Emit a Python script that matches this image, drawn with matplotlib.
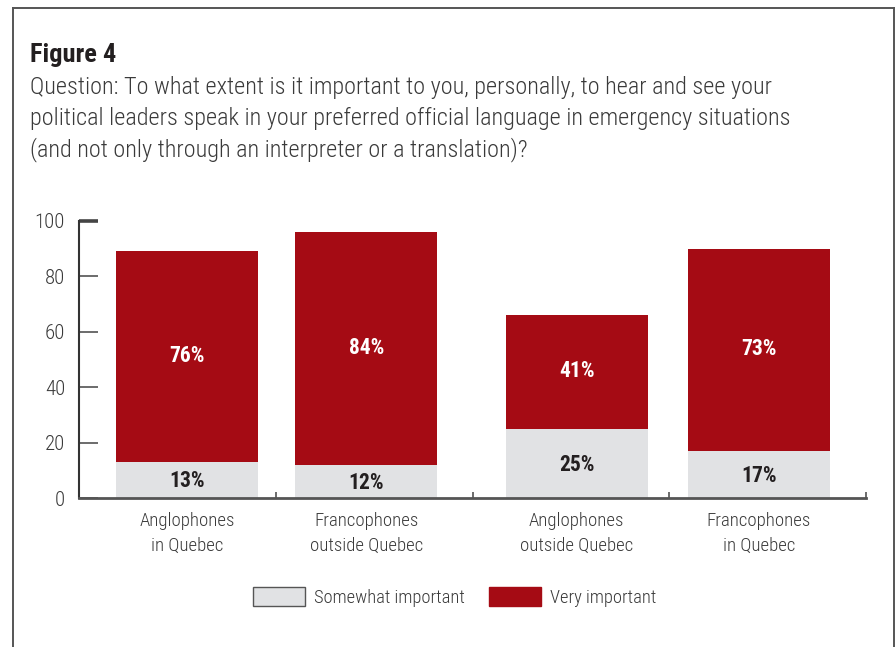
import matplotlib

matplotlib.use("Agg", force=True)
import matplotlib.pyplot as plt
from matplotlib import font_manager
from matplotlib.lines import Line2D
from matplotlib.patches import Patch

# --- data -------------------------------------------------------------
groups = [
    "Anglophones\nin Quebec",
    "Francophones\noutside Quebec",
    "Anglophones\noutside Quebec",
    "Francophones\nin Quebec",
]
somewhat = [13, 12, 25, 17]
very = [76, 84, 41, 73]
y_ticks = [0, 20, 40, 60, 80, 100]
series_names = ["Somewhat important", "Very important"]
fig_title = "Figure 4"
question_lines = [
    "Question: To what extent is it important to you, personally, to hear and see your",
    "political leaders speak in your preferred official language in emergency situations",
    "(and not only through an interpreter or a translation)?",
]

# --- style ------------------------------------------------------------
RED = "#a50b14"
GRAY = "#e1e2e4"
TEXT = "#3a3a3a"
DARK = "#231f20"
W, H = 896, 647

installed = {f.name for f in font_manager.fontManager.ttflist}
wanted = ["Roboto Condensed", "Archivo Narrow", "Barlow Semi Condensed", "PT Sans Narrow"]
family = [n for n in wanted if n in installed][:1] + ["DejaVu Sans"]
plt.rcParams["font.family"] = family
BODY = "light" if family[0] == "Roboto Condensed" else "normal"


def px(x, y):
    return x / W, 1 - y / H


fig = plt.figure(figsize=(W / 100, H / 100), dpi=100)

# frame around the figure (open at the bottom)
xl, yt = px(12.5, 7.5)
xr, _ = px(894, 0)
for xs, ys in [([xl, xl], [-0.01, yt]), ([xl, xr], [yt, yt]), ([xr, xr], [yt, -0.01])]:
    fig.add_artist(Line2D(xs, ys, transform=fig.transFigure, color="#555555", linewidth=1.4))

fig.text(*px(30, 62), fig_title, fontsize=19, fontweight="bold", color=DARK, va="baseline")
for i, line in enumerate(question_lines):
    fig.text(*px(30, 94 + 31 * i), line, fontsize=17.5, fontweight=BODY, color=TEXT, va="baseline")

# plot area
left, bottom = px(79, 498)
_, top = px(0, 221)
ax = fig.add_axes([left, bottom, 787 / W, top - bottom])

slot = [i + 0.5 for i in range(len(groups))]
nudge = [0.05, -0.04, 0.03, -0.045]
centers = [s + n for s, n in zip(slot, nudge)]
bar_w = 0.72

ax.bar(centers, somewhat, width=bar_w, color=GRAY, zorder=2)
ax.bar(centers, very, width=bar_w, bottom=somewhat, color=RED, zorder=2)

for c, s, v in zip(centers, somewhat, very):
    ax.text(c, s / 2 - 0.5, f"{s}%", ha="center", va="center", fontsize=15.5,
            fontweight="bold", color=DARK, zorder=3)
    ax.text(c, s + v / 2 + 0.3, f"{v}%", ha="center", va="center", fontsize=15.5,
            fontweight="bold", color="white", zorder=3)

ax.set_xlim(0, 4)
ax.set_ylim(0, 100)
for side in ["top", "right"]:
    ax.spines[side].set_visible(False)
ax.spines["left"].set_color("#333333")
ax.spines["left"].set_linewidth(1.5)
ax.spines["bottom"].set_color("#555555")
ax.spines["bottom"].set_linewidth(2)

ax.set_yticks(y_ticks)
ax.set_yticklabels([str(t) for t in y_ticks], fontweight=BODY)
ax.tick_params(axis="y", direction="in", length=13.5, width=1.1, color="#444444",
               labelsize=15, labelcolor=TEXT, pad=10)
top_tick = ax.yaxis.get_major_ticks()[-1]
top_tick.tick1line.set_markeredgewidth(2.6)
top_tick.tick1line.set_color("#222222")

ax.set_xticks(centers)
ax.set_xticklabels(groups, fontsize=13.5, fontweight=BODY, color=TEXT, linespacing=1.5)
ax.tick_params(axis="x", which="major", length=0, pad=10)
ax.set_xticks([1, 2, 3, 4], minor=True)
ax.tick_params(axis="x", which="minor", direction="in", length=4, width=1.1, color="#444444")

handles = [Patch(facecolor=GRAY, edgecolor="#555555", linewidth=1.0),
           Patch(facecolor=RED, edgecolor=RED)]
leg = fig.legend(handles, series_names, loc="center", bbox_to_anchor=px(455, 597), ncol=2,
                 frameon=False, fontsize=13.3, labelcolor=TEXT, handlelength=2.8,
                 handleheight=1.15, handletextpad=0.5, columnspacing=1.3)
for t in leg.get_texts():
    t.set_fontweight(BODY)

fig.savefig("out.png", dpi=100)
